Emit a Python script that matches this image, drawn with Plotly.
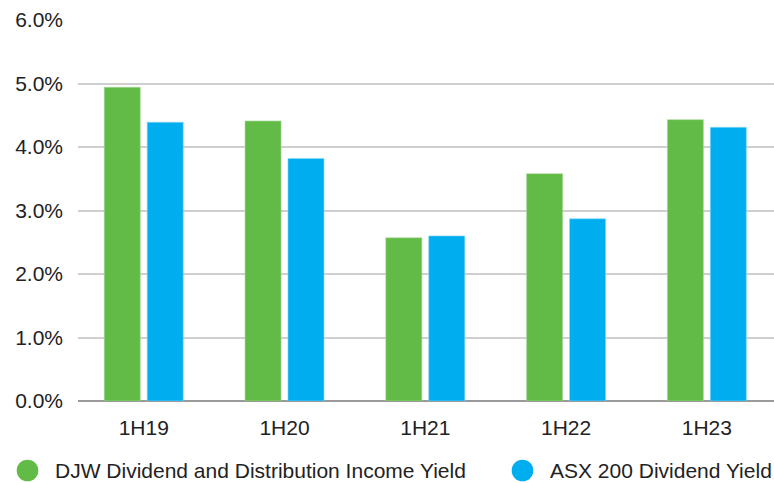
import plotly.graph_objects as go

# Half-year periods and yields (%)
periods = ["1H19", "1H20", "1H21", "1H22", "1H23"]
djw_yield = [4.94, 4.41, 2.57, 3.58, 4.43]
asx_yield = [4.39, 3.82, 2.60, 2.87, 4.31]
series_names = ["DJW Dividend and Distribution Income Yield", "ASX 200 Dividend Yield"]
y_ticks = [0, 1, 2, 3, 4, 5, 6]
y_tick_text = ["0.0%", "1.0%", "2.0%", "3.0%", "4.0%", "5.0%", "6.0%"]

GREEN = "#62BB46"
BLUE = "#00AEEF"
TEXT = "#222222"
FONT = "Liberation Sans, Arial, sans-serif"

W, H = 774, 483
M_L, M_R, M_T, M_B = 78, 0, 20, 82

fig = go.Figure()
fig.add_trace(go.Bar(x=periods, y=djw_yield, name=series_names[0],
                     marker=dict(color=GREEN, line=dict(color="#A9DA98", width=0.6)),
                     showlegend=False))
fig.add_trace(go.Bar(x=periods, y=asx_yield, name=series_names[1],
                     marker=dict(color=BLUE, line=dict(color="#8FD9F7", width=0.6)),
                     showlegend=False))

# Custom legend: large round swatches with labels along the bottom
def px_to_paper_x(px):
    return (px - M_L) / (W - M_L - M_R)

def px_to_paper_y(py):
    return (H - M_B - py) / (H - M_T - M_B)

legend_items = [(27.5, 53, GREEN, series_names[0]), (522.5, 548, BLUE, series_names[1])]
legend_y = 470.5
r = 10.8
for cx, tx, col, label in legend_items:
    fig.add_shape(type="circle", xref="paper", yref="paper",
                  x0=px_to_paper_x(cx - r), x1=px_to_paper_x(cx + r),
                  y0=px_to_paper_y(legend_y + r), y1=px_to_paper_y(legend_y - r),
                  fillcolor=col, line=dict(width=0))
    fig.add_annotation(xref="paper", yref="paper", x=px_to_paper_x(tx), y=px_to_paper_y(legend_y),
                       text=label, showarrow=False, xanchor="left", yanchor="middle",
                       font=dict(family=FONT, size=21, color=TEXT))

fig.update_layout(
    width=W, height=H,
    margin=dict(l=M_L, r=M_R, t=M_T, b=M_B, pad=0),
    paper_bgcolor="white", plot_bgcolor="white",
    barmode="group", bargap=0.39, bargroupgap=0.16,
    font=dict(family=FONT, size=21, color=TEXT),
    showlegend=False,
)
fig.update_xaxes(type="category", range=[-0.467, 4.477], showgrid=False,
                 showline=False, ticks="", ticklabelstandoff=12,
                 tickfont=dict(family=FONT, size=21, color=TEXT))
fig.update_yaxes(range=[0, 6], tickvals=y_ticks, ticktext=y_tick_text,
                 showgrid=True, gridcolor="#CFCFCF", gridwidth=1.5,
                 zeroline=True, zerolinecolor="#9A9A9A", zerolinewidth=1.5,
                 showline=False, ticks="", ticklabelstandoff=14,
                 tickfont=dict(family=FONT, size=21, color=TEXT))

fig.write_html("out.html")
